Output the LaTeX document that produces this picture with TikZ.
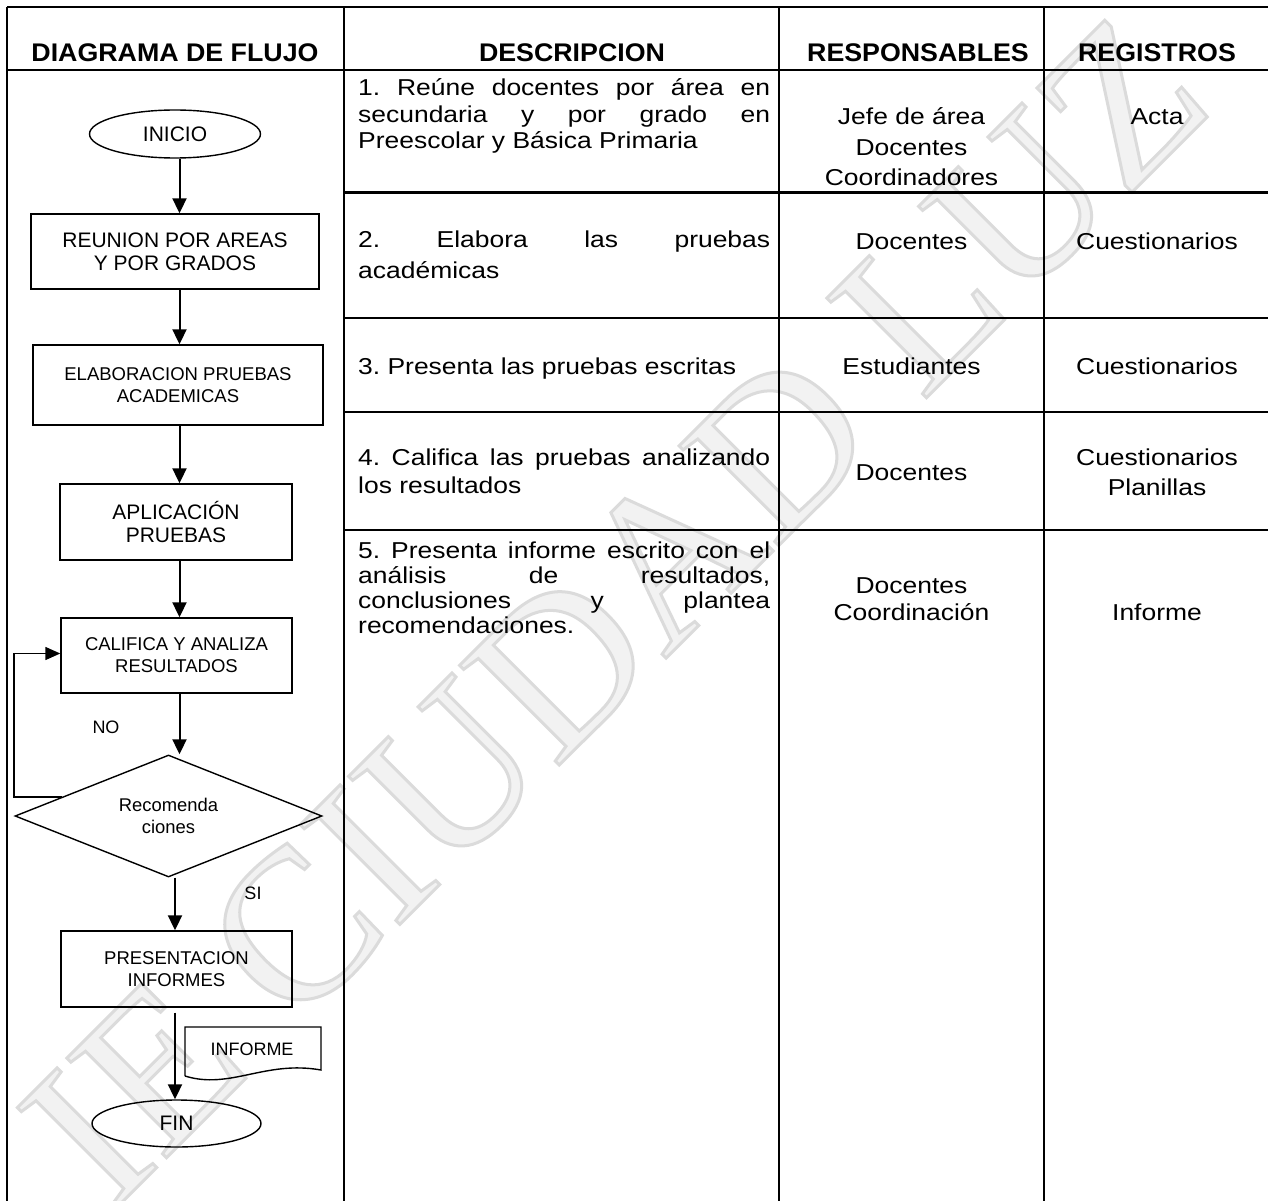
\documentclass[tikz,border=0pt]{standalone}
\usepackage{fontspec}
\setmainfont{Liberation Sans}
\newfontfamily\bodyfont[FakeStretch=1.15]{Liberation Sans}
\newfontfamily\headfont[FakeStretch=1.05]{Liberation Sans}
\newfontfamily\markfont{Liberation Serif}
\usetikzlibrary{shapes.geometric,arrows.meta,calc}
\frenchspacing

\definecolor{markfill}{RGB}{242,242,242}

% one justified line of the description column
\newcommand\justline[1]{\makebox[412pt][s]{#1}}
% description cell: first baseline is the node's base; optional line spacing
\newcommand\desccell[2][25]{\parbox[t]{412pt}{\bodyfont\fontsize{23}{#1}\selectfont #2}}
% centred cell for the two narrow columns
\newcommand\midcell[2][28]{\parbox[t]{250pt}{\centering\bodyfont\fontsize{23}{#1}\selectfont #2}}
% hollow lettering: light fill with a light grey outline
\newcommand\hollow[1]{\special{pdf:literal direct 2 Tr 3 w 0.86 G}#1\special{pdf:literal direct 0 Tr}}

\tikzset{
  gridline/.style={line width=2.4pt},
  flowbox/.style={draw, line width=1.4pt, rectangle, inner sep=0pt, align=center},
  term/.style={draw, line width=1.4pt, ellipse, inner sep=0pt, align=center},
  decision/.style={draw, line width=1.4pt, diamond, inner sep=0pt, align=center},
  flowarrow/.style={line width=2pt, -{Triangle[length=15pt,width=14pt]}},
  loopline/.style={line width=1.4pt, -{Triangle[length=15pt,width=13pt]}},
  headtxt/.style={anchor=base, inner sep=0pt, font=\headfont\bfseries\fontsize{25.5}{28}\selectfont},
  desc/.style={anchor=base west, inner sep=0pt},
  cell/.style={anchor=base, inner sep=0pt},
  big/.style={font=\fontsize{21}{23}\selectfont},
  small/.style={font=\fontsize{18.5}{22}\selectfont},
  tag/.style={inner sep=0pt, font=\fontsize{18}{20}\selectfont},
}

\begin{document}
\begin{tikzpicture}[x=1pt,y=-1pt]
\useasboundingbox (0,0) rectangle (1268,1201);
\fill[white] (0,0) rectangle (1268,1201);

% watermark
\begin{scope}
\node[rotate=45, inner sep=0pt, text=markfill,
      font=\markfont\fontsize{215}{215}\selectfont] (mark) at (615,610) {\hollow{IE CIUDAD LUZ}};
\end{scope}

% table grid
\draw[gridline] (7,7) -- (1268,7);
\draw[gridline] (7,70) -- (1268,70);
\draw[gridline] (7,7) -- (7,1201);
\draw[gridline] (344,7) -- (344,1201);
\draw[gridline] (779,7) -- (779,1201);
\draw[gridline] (1044,7) -- (1044,1201);
\foreach \yy in {192.5,318,412,530} \draw[gridline] (344,\yy) -- (1268,\yy);

% headings
\node[headtxt] (h1) at (175,62) {DIAGRAMA DE FLUJO};
\node[headtxt] (h2) at (572,62) {DESCRIPCION};
\node[headtxt] (h3) at (918,62) {RESPONSABLES};
\node[headtxt] (h4) at (1157,62) {REGISTROS};

% description column
\node[desc] (d1) at (358,96) {\desccell[26.5]{\justline{1. Reúne docentes por área en}\\
  \justline{secundaria y por grado en}\\ Preescolar y Básica Primaria}};
\node[desc] (d2) at (358,247) {\desccell[32]{\justline{2. Elabora las pruebas}\\ académicas}};
\node[desc] (d3) at (358,374) {\desccell{3. Presenta las pruebas escritas}};
\node[desc] (d4) at (358,465) {\desccell[28]{\justline{4. Califica las pruebas analizando}\\ los resultados}};
\node[desc] (d5) at (358,558) {\desccell{\justline{5. Presenta informe escrito con el}\\
  \justline{análisis de resultados,}\\ \justline{conclusiones y plantea}\\ recomendaciones.}};

% responsible column
\node[cell] (r1) at (911.5,125) {\midcell[30.5]{Jefe de área\\Docentes\\Coordinadores}};
\node[cell] (r2) at (911.5,249) {\midcell{Docentes}};
\node[cell] (r3) at (911.5,374) {\midcell{Estudiantes}};
\node[cell] (r4) at (911.5,480) {\midcell{Docentes}};
\node[cell] (r5) at (911.5,593) {\midcell[27]{Docentes\\Coordinación}};

% records column
\node[cell] (g1) at (1157,125) {\midcell{Acta}};
\node[cell] (g2) at (1157,249) {\midcell{Cuestionarios}};
\node[cell] (g3) at (1157,374) {\midcell{Cuestionarios}};
\node[cell] (g4) at (1157,465) {\midcell[30]{Cuestionarios\\Planillas}};
\node[cell] (g5) at (1157,620) {\midcell{Informe}};

% flowchart
\node[term, big, minimum width=171pt, minimum height=48pt] (inicio) at (175,134) {INICIO};
\node[flowbox, big, minimum width=288pt, minimum height=75pt] (reunion) at (175,251.5) {REUNION POR AREAS\\Y POR GRADOS};
\node[flowbox, small, minimum width=290pt, minimum height=80pt] (elab) at (178,385) {ELABORACION PRUEBAS\\ACADEMICAS};
\node[flowbox, big, minimum width=232pt, minimum height=76pt] (aplic) at (176,522) {APLICACIÓN\\PRUEBAS};
\node[flowbox, small, minimum width=231pt, minimum height=75pt] (calif) at (176.5,655.5) {CALIFICA Y ANALIZA\\RESULTADOS};
\node[decision, minimum width=307pt, minimum height=122pt, aspect=2.5,
      font=\fontsize{18.4}{22}\selectfont] (dec) at (168.5,816) {Recomenda\\ciones};
\node[flowbox, small, minimum width=231pt, minimum height=76pt] (presen) at (176.5,969) {PRESENTACION\\INFORMES};
\node[tag] (informe) at (252,1049) {INFORME};
\node[term, big, minimum width=169pt, minimum height=47pt] (fin) at (176.5,1123.5) {FIN};

\node[tag] (no) at (106,727) {NO};
\node[tag] (si) at (253,893) {SI};

% document symbol round the INFORME label
\draw[line width=1.4pt] (185,1076) -- (185,1027) -- (321,1027) -- (321,1070)
  .. controls (265,1060) and (230,1090) .. (185,1076);

% connectors
\coordinate (axa) at (179.5,0);
\coordinate (axb) at (175,0);
\coordinate (lc) at (14,0);
\draw[flowarrow] (axa |- inicio.south) -- (axa |- reunion.north);
\draw[flowarrow] (axa |- reunion.south) -- (axa |- elab.north);
\draw[flowarrow] (axa |- elab.south) -- (axa |- aplic.north);
\draw[flowarrow] (axa |- aplic.south) -- (axa |- calif.north);
\draw[flowarrow] (axa |- calif.south) -- (axa |- dec.north);
\draw[flowarrow] (axb |- dec.south) -- (axb |- presen.north);
\draw[flowarrow] ($(axb |- presen.south)+(0,5)$) -- (axb |- fin.north);
\coordinate (lp) at ($(dec.west)!0.31!(dec.north)$);
\draw[loopline] (lp) -- (lc |- lp) |- ([yshift=2pt]calif.west);
\end{tikzpicture}
\end{document}
